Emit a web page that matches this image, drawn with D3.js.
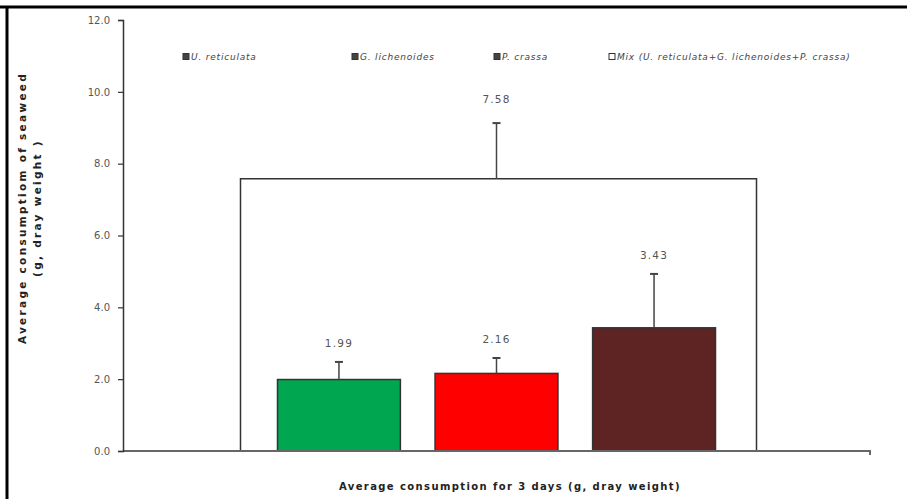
<!DOCTYPE html>
<html>
<head>
<meta charset="utf-8">
<script src="https://cdn.jsdelivr.net/npm/d3@7"></script>
<style>
  html, body { margin: 0; padding: 0; background: #fff; }
  svg { display: block; }
</style>
</head>
<body>
<svg id="chart" width="907" height="499"></svg>
<script>
// Series shown in the single category
const seriesNames = ["U. reticulata", "G. lichenoides", "P. crassa",
  "Mix (U. reticulata+G. lichenoides+P. crassa)"];
const seriesValues = [1.99, 2.16, 3.43, 7.58];
const seriesErrors = [0.49, 0.43, 1.50, 1.55];
const seriesColors = ["#00a650", "#ff0000", "#5e2323", "#ffffff"];
const yTicks = [0, 2, 4, 6, 8, 10, 12];
const categories = ["Average consumption for 3 days (g, dray weight)"];

const svg = d3.select("#chart");
const W = 907, H = 499;
const m = { left: 123, right: 37, top: 20, bottom: 48 };
const FONT = "DejaVu Sans, Verdana, sans-serif";

// frame lines (top and left)
svg.append("line").attr("x1", 0).attr("x2", W).attr("y1", 7).attr("y2", 7)
  .attr("stroke", "#000").attr("stroke-width", 3);
svg.append("line").attr("x1", 7).attr("x2", 7).attr("y1", 6).attr("y2", H)
  .attr("stroke", "#000").attr("stroke-width", 3);

const y = d3.scaleLinear().domain([0, 12]).range([H - m.bottom, m.top]);
const x = d3.scaleBand().domain(categories).range([m.left, W - m.right]).padding(0);

// small bars share the middle of the category; the mix bar spans behind them
const cx = x(categories[0]) + x.bandwidth() / 2;
const inner = d3.scaleBand().domain([0, 1, 2])
  .range([cx - 219, cx + 219]).paddingInner(0.22).paddingOuter(0);
const mixHalf = 258;

const barX = i => i < 3 ? inner(i) : cx - mixHalf + 2;
const barW = i => i < 3 ? inner.bandwidth() : mixHalf * 2;
const barC = i => i < 3 ? barX(i) + barW(i) / 2 : cx;

const data = seriesValues.map((v, i) => ({ i, v, e: seriesErrors[i] }));
// draw mix first so it sits behind
const order = [3, 0, 1, 2].map(i => data[i]);

const g = svg.append("g");

g.selectAll("rect.bar").data(order).join("rect")
  .attr("class", "bar")
  .attr("x", d => barX(d.i))
  .attr("width", d => barW(d.i))
  .attr("y", d => y(d.v))
  .attr("height", d => y(0) - y(d.v))
  .attr("fill", d => seriesColors[d.i])
  .attr("stroke", "#333")
  .attr("stroke-width", 1.5);

// error bars (upper only)
g.selectAll("line.err").data(order).join("line")
  .attr("class", "err")
  .attr("x1", d => barC(d.i)).attr("x2", d => barC(d.i))
  .attr("y1", d => y(d.v)).attr("y2", d => y(d.v + d.e))
  .attr("stroke", "#444").attr("stroke-width", 1.5);
g.selectAll("line.cap").data(order).join("line")
  .attr("class", "cap")
  .attr("x1", d => barC(d.i) - 4).attr("x2", d => barC(d.i) + 4)
  .attr("y1", d => y(d.v + d.e)).attr("y2", d => y(d.v + d.e))
  .attr("stroke", "#444").attr("stroke-width", 2);

// value labels
g.selectAll("text.val").data(order).join("text")
  .attr("class", "val")
  .attr("x", d => barC(d.i))
  .attr("y", d => y(d.v + d.e) - (d.i === 3 ? 20 : 15))
  .attr("text-anchor", "middle")
  .attr("font-family", FONT)
  .attr("font-size", 10.5)
  .attr("letter-spacing", 1.2)
  .attr("fill", "#555")
  .text(d => d.v.toFixed(2));

// x axis line
const xAxis = svg.append("g").attr("transform", `translate(0,${y(0)})`)
  .call(d3.axisBottom(x).tickSize(0).tickFormat(""));
xAxis.select(".domain").attr("stroke", "#666").attr("stroke-width", 2)
  .attr("d", `M${m.left},0H${W - m.right}V4`);

// y axis
const yAxis = svg.append("g").attr("transform", `translate(${m.left},0)`)
  .call(d3.axisLeft(y).tickValues(yTicks).tickFormat(d3.format(".1f")).tickSize(5).tickPadding(8));
yAxis.select(".domain").attr("stroke", "#333").attr("stroke-width", 1.5);
yAxis.selectAll(".tick line").attr("stroke", "#333").attr("stroke-width", 1.2);
yAxis.selectAll(".tick text")
  .attr("font-family", FONT)
  .attr("font-size", 10).attr("fill", "#555");

// axis titles
svg.append("text")
  .attr("x", 510)
  .attr("y", 490)
  .attr("text-anchor", "middle")
  .attr("font-family", FONT)
  .attr("font-size", 10).attr("font-weight", "bold")
  .attr("letter-spacing", 1.4).attr("fill", "#222")
  .text(categories[0]);

const yTitle = svg.append("text")
  .attr("transform", `translate(26,208) rotate(-90)`)
  .attr("text-anchor", "middle")
  .attr("font-family", FONT)
  .attr("font-size", 10.5).attr("font-weight", "bold")
  .attr("letter-spacing", 2.3).attr("fill", "#222");
yTitle.append("tspan").attr("x", 0).attr("dy", 0).text("Average consumptiom  of seaweed");
yTitle.append("tspan").attr("x", 0).attr("dy", 15).text("(g, dray weight )");

// legend
const legendX = [183, 352, 494, 609];
const leg = svg.append("g").attr("transform", "translate(0,57)");
const li = leg.selectAll("g").data(seriesNames).join("g")
  .attr("transform", (d, i) => `translate(${legendX[i]},0)`);
li.append("rect").attr("x", 0).attr("y", -3.5).attr("width", 6).attr("height", 6)
  .attr("fill", (d, i) => i < 3 ? "#444" : "#fff")
  .attr("stroke", "#333").attr("stroke-width", 1);
li.append("text").attr("x", 8).attr("y", 3)
  .attr("font-family", FONT)
  .attr("font-size", 9).attr("font-style", "italic").attr("fill", "#444")
  .attr("letter-spacing", 0.8)
  .text(d => d);
</script>
</body>
</html>
